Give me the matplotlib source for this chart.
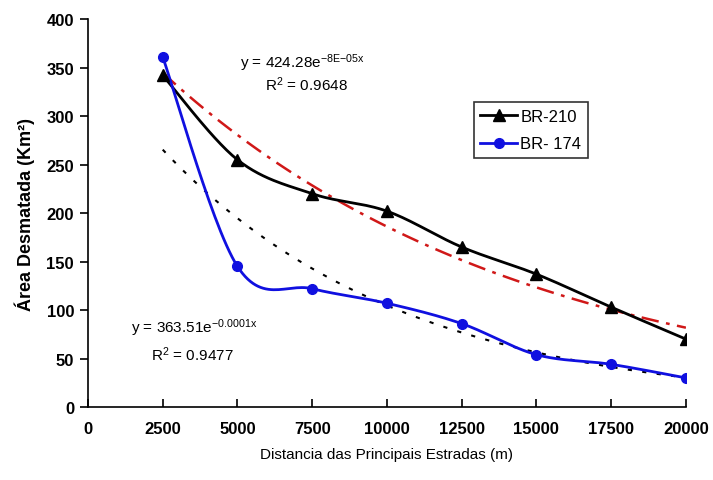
import numpy as np
import matplotlib
matplotlib.use("Agg")
import matplotlib.pyplot as plt

plt.rcParams['font.family'] = ['Liberation Sans', 'DejaVu Sans']
plt.rcParams['mathtext.default'] = 'regular'

distancia = [2500, 5000, 7500, 10000, 12500, 15000, 17500, 20000]
br210 = [342, 255, 220, 202, 165, 137, 103, 70]
br174 = [361, 145, 122, 107, 86, 54, 44, 30]
x_ticks = [0, 2500, 5000, 7500, 10000, 12500, 15000, 17500, 20000]
y_ticks = [0, 50, 100, 150, 200, 250, 300, 350, 400]


def smooth(xs, ys, n=30):
    # Excel-like smoothed line: cubic bezier through points, 1/6 tangents
    xs = np.asarray(xs, float)
    ys = np.asarray(ys, float)
    px = np.concatenate([[xs[0]], xs, [xs[-1]]])
    py = np.concatenate([[ys[0]], ys, [ys[-1]]])
    out_x, out_y = [], []
    t = np.linspace(0, 1, n)
    for i in range(1, len(px) - 2):
        p0 = np.array([px[i], py[i]])
        p3 = np.array([px[i + 1], py[i + 1]])
        p1 = p0 + (np.array([px[i + 1], py[i + 1]]) - np.array([px[i - 1], py[i - 1]])) / 6
        p2 = p3 - (np.array([px[i + 2], py[i + 2]]) - np.array([px[i], py[i]])) / 6
        b = ((1 - t) ** 3)[:, None] * p0 + (3 * (1 - t) ** 2 * t)[:, None] * p1 \
            + (3 * (1 - t) * t ** 2)[:, None] * p2 + (t ** 3)[:, None] * p3
        out_x.extend(b[:, 0])
        out_y.extend(b[:, 1])
    return out_x, out_y


def exp_trend(xs, ys):
    b, ln_a = np.polyfit(xs, np.log(ys), 1)
    xx = np.linspace(xs[0], xs[-1], 100)
    return xx, np.exp(ln_a) * np.exp(b * xx)


fig = plt.figure(figsize=(7.13, 4.81), dpi=100)
ax = fig.add_axes([0.1234, 0.1518, 0.8386, 0.8062])

sx, sy = smooth(distancia, br210)
ax.plot(sx, sy, color='black', lw=2, zorder=3)
ax.plot(distancia, br210, ls='none', marker='^', color='black', ms=8, zorder=4)
sx, sy = smooth(distancia, br174)
ax.plot(sx, sy, color='#1010e0', lw=2, zorder=3)
ax.plot(distancia, br174, ls='none', marker='o', color='#1010e0', ms=7, zorder=4)

tx, ty = exp_trend(np.array(distancia), np.array(br210))
ax.plot(tx, ty, color='#d01818', lw=1.8, dashes=(7, 3, 1.5, 3), zorder=2)
tx, ty = exp_trend(np.array(distancia), np.array(br174))
ax.plot(tx, ty, color='black', lw=1.5, dashes=(2, 5), zorder=2)

# legend
ax.plot([], [], color='black', lw=2, marker='^', ms=8, label='BR-210')
ax.plot([], [], color='#1010e0', lw=2, marker='o', ms=7, label='BR- 174')
h, l = ax.get_legend_handles_labels()
leg = ax.legend(h[-2:], l[-2:], loc='upper left', bbox_to_anchor=(0.645, 0.786),
                borderaxespad=0, frameon=True, fancybox=False, edgecolor='black',
                fontsize=12, handlelength=2.2, handletextpad=0.2, borderpad=0.4,
                labelspacing=0.75)
leg.get_frame().set_linewidth(1.2)

ax.text(5100, 356, r'y = 424.28e$^{{-}8E{-}05x}$', fontsize=11, va='center')
ax.text(7300, 333, r'R$^{2}$ = 0.9648', fontsize=11, va='center', ha='center')
ax.text(1450, 82, r'y = 363.51e$^{{-}0.0001x}$', fontsize=11, va='center')
ax.text(3500, 55, r'R$^{2}$ = 0.9477', fontsize=11, va='center', ha='center')

ax.set_xlim(0, 20000)
ax.set_ylim(0, 400)
ax.set_xticks(x_ticks)
ax.set_yticks(y_ticks)
ax.set_xticklabels([str(v) for v in x_ticks], fontsize=12, fontweight='bold')
ax.set_yticklabels([str(v) for v in y_ticks], fontsize=12, fontweight='bold')
ax.tick_params(axis='x', direction='in', length=6, width=1.2, pad=10)
ax.tick_params(axis='y', direction='out', length=6, width=1.2, pad=4)
for s in ['top', 'right']:
    ax.spines[s].set_visible(False)
for s in ['left', 'bottom']:
    ax.spines[s].set_linewidth(1.2)

ax.set_xlabel('Distancia das Principais Estradas (m)', fontsize=11, labelpad=8)
ax.set_ylabel('Área Desmatada (Km²)', fontsize=13, fontweight='bold', labelpad=8)

fig.savefig('out.png', dpi=100)
